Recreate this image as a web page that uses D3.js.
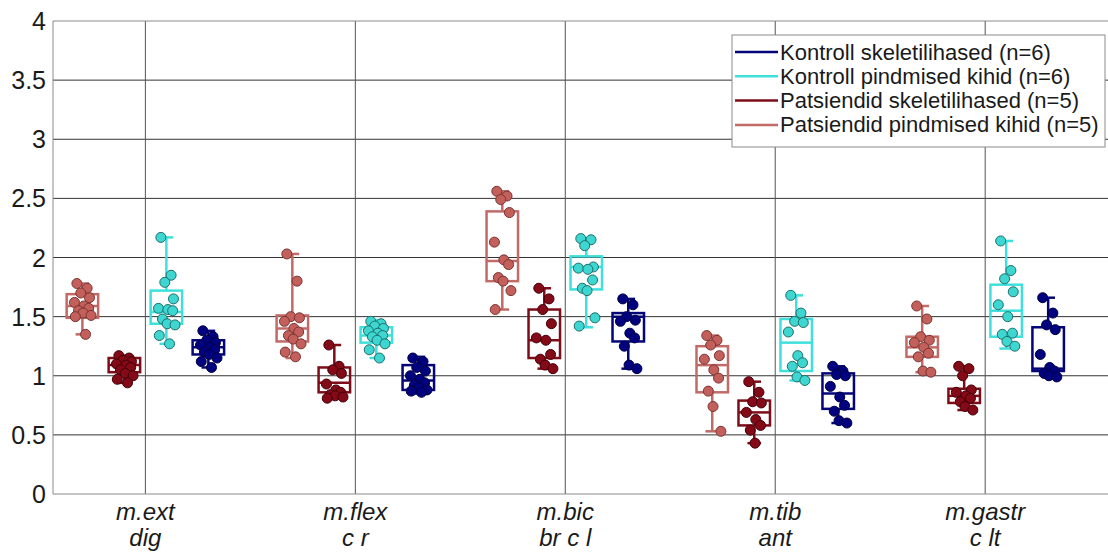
<!DOCTYPE html>
<html>
<head>
<meta charset="utf-8">
<script src="https://cdn.jsdelivr.net/npm/d3@7"></script>
<style>
  body { margin: 0; background: #fff; }
  svg { display: block; font-family: "Liberation Sans", Arial, sans-serif; }
</style>
</head>
<body>
<svg id="chart" width="1108" height="553"></svg>
<script>
// muscles (two-line labels)
const muscles = [["m.ext", "dig"], ["m.flex", "c r"], ["m.bic", "br c l"], ["m.tib", "ant"], ["m.gastr", "c lt"]];
const yTicks = [0, 0.5, 1, 1.5, 2, 2.5, 3, 3.5, 4];

// series, left to right inside each group
const seriesNames = ["Patsiendid pindmised kihid (n=5)", "Patsiendid skeletilihased (n=5)",
                     "Kontroll pindmised kihid (n=6)", "Kontroll skeletilihased (n=6)"];
const legendOrder = [3, 2, 1, 0];

// box stats per muscle: [whisker low, q1, median, q3, whisker high]
const boxPatPind = [[1.35, 1.49, 1.59, 1.69, 1.78], [1.15, 1.29, 1.40, 1.51, 2.03], [1.56, 1.80, 1.97, 2.39, 2.56], [0.53, 0.86, 1.09, 1.25, 1.34], [1.03, 1.16, 1.24, 1.33, 1.59]];
const boxPatSkel = [[0.94, 1.03, 1.09, 1.15, 1.17], [0.81, 0.86, 0.94, 1.07, 1.26], [1.06, 1.15, 1.30, 1.56, 1.74], [0.43, 0.58, 0.69, 0.79, 0.95], [0.71, 0.77, 0.83, 0.89, 1.08]];
const boxKonPind = [[1.27, 1.44, 1.54, 1.72, 2.17], [1.15, 1.28, 1.34, 1.41, 1.47], [1.41, 1.73, 1.92, 2.01, 2.16], [0.96, 1.04, 1.28, 1.48, 1.68], [1.23, 1.33, 1.55, 1.77, 2.14]];
const boxKonSkel = [[1.07, 1.18, 1.24, 1.30, 1.38], [0.85, 0.88, 0.96, 1.09, 1.16], [1.06, 1.29, 1.50, 1.53, 1.65], [0.60, 0.72, 0.85, 1.02, 1.08], [0.99, 1.04, 1.06, 1.41, 1.66]];

// individual points per muscle
const ptsPatPind = [
  [1.78, 1.74, 1.70, 1.66, 1.62, 1.59, 1.57, 1.55, 1.53, 1.51, 1.50, 1.35],
  [2.03, 1.80, 1.50, 1.49, 1.46, 1.40, 1.37, 1.34, 1.31, 1.27, 1.20, 1.16],
  [2.56, 2.52, 2.49, 2.38, 2.13, 1.98, 1.94, 1.83, 1.80, 1.72, 1.56],
  [1.34, 1.30, 1.26, 1.17, 1.14, 1.05, 0.98, 0.87, 0.74, 0.53],
  [1.59, 1.48, 1.33, 1.30, 1.28, 1.24, 1.19, 1.16, 1.04, 1.03]];
const ptsPatSkel = [
  [1.17, 1.15, 1.13, 1.12, 1.10, 1.09, 1.07, 1.05, 1.02, 1.00, 0.97, 0.94],
  [1.26, 1.08, 1.05, 1.02, 0.93, 0.88, 0.86, 0.84, 0.83, 0.82, 0.81],
  [1.74, 1.65, 1.56, 1.44, 1.32, 1.30, 1.18, 1.14, 1.09, 1.06],
  [0.95, 0.86, 0.78, 0.77, 0.69, 0.63, 0.58, 0.54, 0.43],
  [1.08, 1.06, 1.00, 0.88, 0.86, 0.83, 0.81, 0.78, 0.74, 0.71]];
const ptsKonPind = [
  [2.17, 1.85, 1.79, 1.65, 1.57, 1.56, 1.55, 1.48, 1.44, 1.43, 1.34, 1.27],
  [1.46, 1.44, 1.42, 1.40, 1.38, 1.36, 1.34, 1.33, 1.30, 1.27, 1.22, 1.15],
  [2.16, 2.15, 2.10, 1.92, 1.91, 1.90, 1.81, 1.74, 1.72, 1.49, 1.42],
  [1.68, 1.53, 1.46, 1.45, 1.37, 1.17, 1.11, 1.08, 0.99, 0.96],
  [2.14, 1.89, 1.82, 1.71, 1.60, 1.50, 1.36, 1.35, 1.29, 1.25]];
const ptsKonSkel = [
  [1.38, 1.33, 1.30, 1.28, 1.26, 1.24, 1.22, 1.20, 1.18, 1.15, 1.12, 1.07],
  [1.15, 1.12, 1.07, 1.04, 1.00, 0.97, 0.94, 0.92, 0.90, 0.88, 0.87, 0.86],
  [1.65, 1.60, 1.50, 1.47, 1.46, 1.36, 1.32, 1.25, 1.09, 1.06],
  [1.08, 1.04, 1.01, 1.00, 0.91, 0.82, 0.75, 0.70, 0.62, 0.60],
  [1.66, 1.53, 1.43, 1.39, 1.18, 1.07, 1.04, 1.02, 1.00, 0.99]];

const boxes = [boxPatPind, boxPatSkel, boxKonPind, boxKonSkel];
const points = [ptsPatPind, ptsPatSkel, ptsKonPind, ptsKonSkel];

const lineColors = ["#c26a68", "#7d0d18", "#3fe0dc", "#05057a"];
const dotFill = ["#c4605c", "#850a18", "#3ed6d0", "#020280"];
const dotStroke = ["#7a3431", "#420008", "#1d6f6c", "#000040"];

// fixed horizontal spread of dots inside a box (fraction of box half-width)
const jitter = [-0.35, 0.3, -0.1, 0.45, -0.5, 0.1, 0.4, -0.25, 0.05, 0.55, -0.45, 0.2];

const svg = d3.select("#chart");
const plotL = 53, plotT = 21, plotB = 494, plotR = 1108;

const x = d3.scaleLinear().domain([0.56, 5.585]).range([plotL, plotR]);
const y = d3.scaleLinear().domain([0, 4]).range([plotB, plotT]);

const offsets = [-0.3, -0.1, 0.1, 0.3];
const boxW = 0.15, capW = 0.065;

// grid
svg.append("g").selectAll("line")
  .data(yTicks.filter(t => t > 0 && t < 4))
  .join("line")
  .attr("x1", plotL).attr("x2", plotR)
  .attr("y1", d => y(d)).attr("y2", d => y(d))
  .attr("stroke", "#333").attr("stroke-width", 1);

svg.append("g").selectAll("line")
  .data(muscles)
  .join("line")
  .attr("x1", (d, i) => x(i + 1)).attr("x2", (d, i) => x(i + 1))
  .attr("y1", plotT).attr("y2", plotB)
  .attr("stroke", "#555").attr("stroke-width", 1);

// frame
svg.append("line").attr("x1", plotL).attr("x2", plotR).attr("y1", plotT).attr("y2", plotT).attr("stroke", "#8a8a8a");
svg.append("line").attr("x1", plotL).attr("x2", plotR).attr("y1", plotB).attr("y2", plotB).attr("stroke", "#8a8a8a");
svg.append("line").attr("x1", plotL).attr("x2", plotL).attr("y1", plotT).attr("y2", plotB).attr("stroke", "#8a8a8a");

// y tick labels
svg.append("g").selectAll("text")
  .data(yTicks)
  .join("text")
  .attr("x", 46).attr("y", d => y(d))
  .attr("text-anchor", "end").attr("dominant-baseline", "central")
  .attr("font-size", 25).attr("fill", "#1a1a1a")
  .text(d => d);

// x labels
const xl = svg.append("g").selectAll("text")
  .data(muscles)
  .join("text")
  .attr("text-anchor", "middle")
  .attr("font-size", 24).attr("font-style", "italic").attr("fill", "#1a1a1a");
xl.append("tspan").attr("x", (d, i) => x(i + 1)).attr("y", 520).text(d => d[0]);
xl.append("tspan").attr("x", (d, i) => x(i + 1)).attr("y", 546).text(d => d[1]);

// boxes and dots
seriesNames.forEach((name, s) => {
  const g = svg.append("g");
  boxes[s].forEach((b, m) => {
    const cx = m + 1 + offsets[s];
    const [lo, q1, med, q3, hi] = b;
    const col = lineColors[s];
    g.append("line").attr("x1", x(cx)).attr("x2", x(cx)).attr("y1", y(hi)).attr("y2", y(q3))
      .attr("stroke", col).attr("stroke-width", 2.5);
    g.append("line").attr("x1", x(cx)).attr("x2", x(cx)).attr("y1", y(q1)).attr("y2", y(lo))
      .attr("stroke", col).attr("stroke-width", 2.5);
    [lo, hi].forEach(v => g.append("line")
      .attr("x1", x(cx - capW / 2)).attr("x2", x(cx + capW / 2))
      .attr("y1", y(v)).attr("y2", y(v))
      .attr("stroke", col).attr("stroke-width", 2.5));
    g.append("rect")
      .attr("x", x(cx - boxW / 2)).attr("y", y(q3))
      .attr("width", x(cx + boxW / 2) - x(cx - boxW / 2))
      .attr("height", y(q1) - y(q3))
      .attr("fill", "none").attr("stroke", col).attr("stroke-width", 2.5);
    g.append("line")
      .attr("x1", x(cx - boxW / 2)).attr("x2", x(cx + boxW / 2))
      .attr("y1", y(med)).attr("y2", y(med))
      .attr("stroke", col).attr("stroke-width", 2.5);

    g.selectAll(null)
      .data(points[s][m])
      .join("circle")
      .attr("cx", (d, i) => x(cx + jitter[i % jitter.length] * boxW / 2))
      .attr("cy", d => y(d))
      .attr("r", 5)
      .attr("fill", dotFill[s])
      .attr("stroke", dotStroke[s]).attr("stroke-width", 1);
  });
});

// legend
const lg = svg.append("g");
lg.append("rect").attr("x", 732).attr("y", 35).attr("width", 373).attr("height", 112)
  .attr("fill", "#fff").attr("stroke", "#8a8a8a").attr("stroke-width", 1);
legendOrder.forEach((s, k) => {
  const ly = 52 + k * 24.3;
  lg.append("line").attr("x1", 735).attr("x2", 778).attr("y1", ly).attr("y2", ly)
    .attr("stroke", lineColors[s]).attr("stroke-width", 2.5);
  lg.append("text").attr("x", 780).attr("y", ly).attr("dominant-baseline", "central")
    .attr("font-size", 22).attr("fill", "#1a1a1a").text(seriesNames[s]);
});
</script>
</body>
</html>
